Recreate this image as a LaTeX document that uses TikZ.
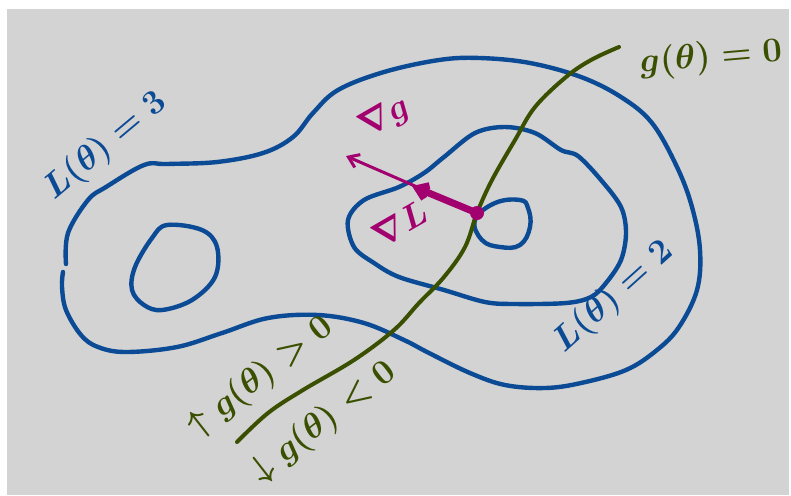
\documentclass[tikz,border=0pt]{standalone}
\usepackage{amsmath}
\usetikzlibrary{arrows.meta}
\definecolor{lg-blue}{HTML}{0B4A94}
\definecolor{lg-green}{HTML}{3A5000}
\definecolor{lg-magenta}{HTML}{A3006F}
\definecolor{lg-paper}{HTML}{D3D3D3}

\begin{document}
\begin{tikzpicture}[
    x=0.5pt, y=-0.5pt,
    font=\fontsize{17}{20}\selectfont\boldmath,
    >={Straight Barb[length=5pt,width=7pt]}
  ]

  % Styles for the sketch
  \tikzset{
    level/.style={draw=lg-blue, line width=2.2pt, line join=round, line cap=round},
    constraint/.style={draw=lg-green, line width=2pt, line cap=round},
    grad/.style={draw=lg-magenta, line cap=round, line join=round},
    lbl/.style={inner sep=0pt}
  }

  % Paper
  \useasboundingbox (0,0) rectangle (791,495);
  \fill[white] (0,0) rectangle (791,495);
  \fill[lg-paper] (7,9) rectangle (789,495);

  % Level set L = 3 (open at the left)
  \draw[level] plot[smooth, tension=0.6] coordinates {
    (66,264) (68,233) (88,200) (106,187) (144,165) (167,164) (217,162)
    (263,153) (293,137) (313,113) (338,90) (384,72) (439,60) (480,58)
    (530,63) (581,77) (621,97) (652,123) (677,167) (692,207) (700,250)
    (697,290) (679,327) (657,350) (626,370) (581,383) (545,388) (505,385)
    (470,373) (429,353) (404,340) (364,323) (318,315) (268,318) (222,333)
    (177,347) (126,352) (98,347) (81,335) (66,310) (62,287) (63,272)};

  % Inner loop on the left
  \draw[level] plot[smooth cycle, tension=0.6] coordinates {
    (167,225) (202,230) (217,247) (215,277) (192,300) (162,310)
    (144,305) (132,290) (135,267) (152,238)};

  % Level set L = 2
  \draw[level] plot[smooth cycle, tension=0.55] coordinates {
    (505,127) (535,133) (561,150) (578,156) (601,180) (621,207) (626,233)
    (621,260) (606,283) (591,297) (566,303) (515,304) (485,302) (444,290)
    (399,277) (374,263) (354,247) (348,220) (364,200) (399,187) (424,173)
    (444,157) (475,133)};

  % Small loop at the minimum
  \draw[level] plot[smooth cycle, tension=0.7] coordinates {
    (475,220) (495,203) (520,200) (528,208) (530,227) (520,245)
    (500,247) (482,240)};

  % Constraint g = 0
  \draw[constraint] plot[smooth, tension=0.6] coordinates {
    (619,47) (591,60) (566,77) (535,107) (515,140) (492,180) (477,213)
    (465,247) (444,277) (419,303) (394,330) (354,360) (303,390)
    (268,413) (237,442)};

  % Gradients at the touching point
  \node[circle, fill=lg-magenta, minimum size=7pt, inner sep=0pt] (touch) at (477,213) {};
  \coordinate (tipg) at (346,156);
  \coordinate (tipL) at (412,186);
  \draw[grad, line width=1.5pt, ->] (touch.center) -- (tipg);
  \draw[grad, line width=3.5pt, ->] (touch.center) -- (tipL);

  % Labels
  \node[lbl, lg-magenta, rotate=30] (gradg) at (385,118) {$\nabla g$};
  \node[lbl, lg-magenta, rotate=30] (gradL) at (400,224) {$\nabla L$};
  \node[lbl, lg-blue, rotate=40] (lvl3) at (106,146) {$L(\theta)=3$};
  \node[lbl, lg-blue, rotate=42] (lvl2) at (614,297) {$L(\theta)=2$};
  \node[lbl, lg-green, rotate=5] (gzero) at (711,58) {$g(\theta)=0$};
  \node[lbl, lg-green, rotate=38] (gpos) at (261,377) {$\uparrow g(\theta)>0$};
  \node[lbl, lg-green, rotate=38] (gneg) at (324,422) {$\downarrow g(\theta)<0$};

\end{tikzpicture}
\end{document}
